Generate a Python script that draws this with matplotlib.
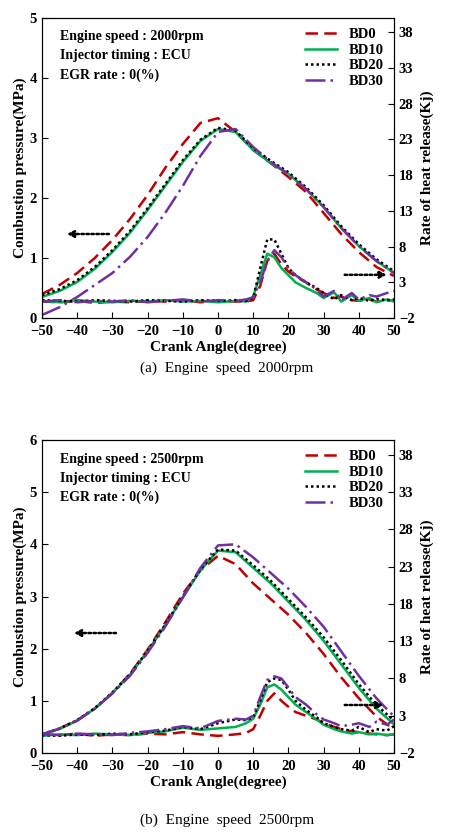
import numpy as np
import matplotlib
matplotlib.use("Agg")
import matplotlib.pyplot as plt

plt.rcParams['font.family'] = ['Liberation Serif', 'DejaVu Serif']

ca = [-50,-45,-40,-35,-30,-25,-20,-15,-10,-5,0,5,10,15,20,25,30,35,40,45,50]

# Top panel (2000 rpm) pressure, MPa
p1_bd0  = [0.40,0.55,0.75,1.00,1.30,1.65,2.05,2.50,2.90,3.25,3.33,3.10,2.80,2.58,2.35,2.10,1.75,1.40,1.10,0.85,0.70]
p1_bd10 = [0.35,0.45,0.60,0.82,1.10,1.42,1.80,2.20,2.60,2.95,3.15,3.10,2.80,2.58,2.40,2.15,1.85,1.50,1.20,0.95,0.75]
p1_bd20 = [0.38,0.48,0.63,0.85,1.13,1.45,1.83,2.23,2.63,2.97,3.17,3.12,2.83,2.62,2.43,2.18,1.88,1.53,1.23,0.98,0.78]
p1_bd30 = [0.05,0.18,0.35,0.55,0.75,1.02,1.35,1.75,2.20,2.70,3.10,3.15,2.85,2.60,2.40,2.15,1.85,1.50,1.20,0.95,0.75]
# Top panel heat release, kJ
ca_h = [-50,-45,-40,-35,-30,-25,-20,-15,-10,-5,0,5,8,10,12,14,16,18,20,22,25,28,30,33,35,38,40,43,45,48,50]
h1_bd0  = [0.3,0.2,0.4,0.1,0.3,0.2,0.4,0.3,0.5,0.2,0.4,0.3,0.3,0.5,2.5,6.0,7.0,5.5,4.5,3.8,3.0,2.0,1.5,0.8,1.0,0.5,0.4,0.6,0.3,0.5,0.4]
h1_bd10 = [0.4,0.2,0.5,0.3,0.2,0.4,0.3,0.5,0.3,0.4,0.2,0.4,0.3,1.0,4.0,7.0,6.5,5.0,4.0,3.0,2.2,1.5,0.8,1.6,0.3,1.2,0.4,0.8,0.2,0.6,0.3]
h1_bd20 = [0.5,0.4,0.3,0.5,0.4,0.3,0.5,0.4,0.3,0.5,0.4,0.5,0.4,0.8,5.0,9.0,9.0,7.0,5.0,4.0,3.0,2.2,1.5,0.6,1.2,0.5,0.8,0.4,0.7,0.5,0.6]
h1_bd30 = [0.3,0.5,0.2,0.4,0.3,0.5,0.2,0.4,0.6,0.3,0.5,0.4,0.6,0.9,3.0,6.0,7.5,6.5,5.0,4.0,3.0,2.0,1.0,1.8,0.5,1.5,0.6,1.2,1.0,1.5,1.8]

# Bottom panel (2500 rpm) pressure, MPa
p2_bd0  = [0.35,0.47,0.63,0.85,1.15,1.52,1.98,2.50,3.05,3.50,3.78,3.62,3.25,2.95,2.65,2.30,1.90,1.45,1.05,0.70,0.45]
p2_bd10 = [0.35,0.46,0.62,0.85,1.15,1.50,1.95,2.45,2.98,3.50,3.88,3.85,3.55,3.25,2.90,2.55,2.15,1.70,1.25,0.85,0.55]
p2_bd20 = [0.36,0.47,0.63,0.86,1.16,1.51,1.96,2.46,3.00,3.52,3.90,3.88,3.60,3.30,2.95,2.60,2.22,1.78,1.32,0.92,0.62]
p2_bd30 = [0.36,0.47,0.62,0.85,1.14,1.48,1.92,2.42,2.98,3.55,3.98,4.00,3.75,3.45,3.15,2.80,2.42,1.95,1.48,1.05,0.70]
h2_bd0  = [0.5,0.4,0.6,0.3,0.5,0.4,0.6,0.5,0.8,0.5,0.3,0.5,0.7,1.2,3.0,5.0,6.0,5.0,4.2,3.5,3.0,2.5,2.0,1.5,1.2,0.9,0.8,0.6,0.5,0.4,0.5]
h2_bd10 = [0.3,0.5,0.4,0.6,0.5,0.4,0.7,0.9,1.4,1.1,1.3,1.5,2.0,2.6,4.5,6.8,7.2,6.5,5.5,4.5,3.5,2.5,1.8,1.2,0.9,0.6,0.8,0.5,0.6,0.4,0.5]
h2_bd20 = [0.4,0.3,0.5,0.4,0.6,0.5,0.8,1.0,1.5,1.2,2.0,2.5,2.4,2.8,5.0,7.5,8.0,7.8,6.5,5.0,3.8,2.8,2.0,1.5,1.2,1.0,1.5,0.8,1.2,1.0,1.6]
h2_bd30 = [0.5,0.4,0.6,0.5,0.4,0.7,0.9,1.2,1.6,1.3,2.3,2.6,2.5,3.0,5.5,7.8,8.3,8.0,6.8,5.5,4.5,3.2,2.5,2.0,1.6,1.8,2.0,1.5,2.2,1.8,2.5]

labels = ['BD0','BD10','BD20','BD30']
colors = ['#C00000','#00B050','#000000','#7030A0']
styles = [(0,(5,2.5)),'-',(0,(1,1.2)),(0,(8,2,1,2))]

fig = plt.figure(figsize=(4.54,8.35), dpi=100)
W,H = 454,835
bold = dict(fontweight='bold', fontsize=11)

def panel(top, bottom, pmax, ps, hs, rpm, caption, capy, arrowL, arrowR):
    ax = fig.add_axes([42/W, 1-bottom/H, (394-42)/W, (bottom-top)/H])
    ax2 = ax.twinx()
    for p,h,l,c,s in zip(ps,hs,labels,colors,styles):
        ax.plot(ca,p,color=c,ls=s,lw=1.8,label=l)
        ax2.plot(ca_h,h,color=c,ls=s,lw=1.8)
    ax.set_xlim(-50,50); ax.set_ylim(0,pmax)
    ax.set_xticks(range(-50,51,10))
    ax.set_yticks(range(0,pmax+1))
    ax2.set_ylim(-2,40); ax2.set_yticks(range(-2,39,5))
    for a in (ax,ax2):
        a.tick_params(direction='in', labelsize=10.5, length=4)
        for t in a.get_xticklabels()+a.get_yticklabels():
            t.set_fontweight('bold')
    ax.tick_params(axis='x', pad=5)
    ax.set_xlabel('Crank Angle(degree)', **bold, labelpad=2)
    ax.set_ylabel('Combustion pressure(MPa)', **bold, labelpad=2)
    ax2.set_ylabel('Rate of heat release(Kj)', **bold, labelpad=4)
    ax.text(0.05,0.96,f'Engine speed : {rpm}rpm\nInjector timing : ECU\nEGR rate : 0(%)',
            transform=ax.transAxes, va='top', ha='left', fontsize=10, fontweight='bold', linespacing=1.6)
    ax.legend(loc='upper right', frameon=False, prop=dict(weight='bold', size=10.5),
              handlelength=2.2, labelspacing=0.15, borderaxespad=0.3)
    ap = dict(arrowstyle='-|>', ls=(0,(1,1)), lw=1.8, color='black', shrinkA=0, shrinkB=0,
              mutation_scale=10)
    ax.annotate('', xy=(arrowL[0],arrowL[2]), xytext=(arrowL[1],arrowL[2]), arrowprops=ap)
    ax.annotate('', xy=(arrowR[1],arrowR[2]), xytext=(arrowR[0],arrowR[2]), arrowprops=ap)
    fig.text(0.5, 1-capy/H, caption, ha='center', va='center', fontsize=11)

panel(18,318,5,[p1_bd0,p1_bd10,p1_bd20,p1_bd30],[h1_bd0,h1_bd10,h1_bd20,h1_bd30],
      2000,'(a)  Engine  speed  2000rpm',368,(-43,-31,1.4),(36,48,0.72))
panel(440,753,6,[p2_bd0,p2_bd10,p2_bd20,p2_bd30],[h2_bd0,h2_bd10,h2_bd20,h2_bd30],
      2500,'(b)  Engine  speed  2500rpm',820,(-41,-29,2.3),(36,47,0.92))

fig.savefig('out.png', dpi=100)
